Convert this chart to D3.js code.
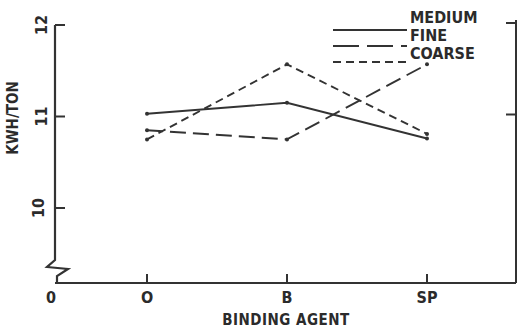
<!DOCTYPE html>
<html>
<head>
<meta charset="utf-8">
<script src="https://cdn.jsdelivr.net/npm/d3@7"></script>
<style>
  body { margin: 0; background: #fff; }
  text { font-family: "Liberation Sans Narrow", "DejaVu Sans Condensed", sans-serif; font-weight: bold; fill: #2b2b2b; }
</style>
</head>
<body>
<div id="chart"></div>
<script>
var agents = ["O", "B", "SP"];
var medium = [11.03, 11.15, 10.76];
var fine = [10.85, 10.75, 11.57];
var coarse = [10.75, 11.57, 10.81];
var yTicks = [10, 11, 12];

var width = 518, height = 330;
var ink = "#333";

var svg = d3.select("#chart").append("svg")
  .attr("width", width)
  .attr("height", height);

var x = d3.scalePoint().domain(agents).range([147, 427]);
var y = d3.scaleLinear().domain([10, 12]).range([208, 25]);

var left = 55, right = 516, base = 283;

// left axis with break
svg.append("path")
  .attr("d", "M" + left + "," + y(12) + "L" + left + ",260L47,267L68,269L57,276L57," + base)
  .attr("fill", "none").attr("stroke", ink).attr("stroke-width", 2.2);

svg.selectAll(".ytick").data(yTicks).enter().append("line")
  .attr("x1", left).attr("x2", left + 10)
  .attr("y1", function (d) { return y(d); })
  .attr("y2", function (d) { return y(d); })
  .attr("stroke", ink).attr("stroke-width", 2);

svg.selectAll(".ylab").data(yTicks).enter().append("text")
  .attr("transform", function (d) { return "translate(" + (d === 10 ? 44 : 47) + "," + y(d) + ") rotate(-90)"; })
  .attr("text-anchor", "middle")
  .attr("font-size", 16)
  .text(function (d) { return d; });

svg.append("text")
  .attr("transform", "translate(18,118) rotate(-90)")
  .attr("text-anchor", "middle")
  .attr("font-size", 15)
  .text("KWH/TON");

// right axis
svg.append("line")
  .attr("x1", right).attr("x2", right)
  .attr("y1", 20).attr("y2", base)
  .attr("stroke", ink).attr("stroke-width", 2);
svg.selectAll(".rtick").data([12, 11]).enter().append("line")
  .attr("x1", right - 10).attr("x2", right)
  .attr("y1", function (d) { return y(d) - 2; })
  .attr("y2", function (d) { return y(d) - 2; })
  .attr("stroke", ink).attr("stroke-width", 2);

// bottom axis
svg.append("line")
  .attr("x1", left).attr("x2", right)
  .attr("y1", base).attr("y2", base)
  .attr("stroke", ink).attr("stroke-width", 2.2);

svg.selectAll(".xtick").data(agents).enter().append("line")
  .attr("x1", function (d) { return x(d); })
  .attr("x2", function (d) { return x(d); })
  .attr("y1", base - 9).attr("y2", base)
  .attr("stroke", ink).attr("stroke-width", 2);

svg.selectAll(".xlab").data(agents).enter().append("text")
  .attr("x", function (d) { return x(d); })
  .attr("y", 303)
  .attr("text-anchor", "middle")
  .attr("font-size", 16)
  .text(function (d) { return d; });

svg.append("text")
  .attr("x", 51).attr("y", 303)
  .attr("text-anchor", "middle")
  .attr("font-size", 16)
  .text("0");

svg.append("text")
  .attr("x", 286).attr("y", 325)
  .attr("text-anchor", "middle")
  .attr("font-size", 15)
  .attr("letter-spacing", 0.5)
  .text("BINDING AGENT");

// series
var series = [
  { name: "MEDIUM", values: medium, dash: null },
  { name: "FINE", values: fine, dash: "16,7" },
  { name: "COARSE", values: coarse, dash: "8,5" }
];

var line = d3.line()
  .x(function (d, i) { return x(agents[i]); })
  .y(function (d) { return y(d); });

series.forEach(function (s) {
  svg.append("path")
    .datum(s.values)
    .attr("d", line)
    .attr("fill", "none")
    .attr("stroke", ink)
    .attr("stroke-width", 1.9)
    .attr("stroke-dasharray", s.dash);
  svg.selectAll(null).data(s.values).enter().append("circle")
    .attr("cx", function (d, i) { return x(agents[i]); })
    .attr("cy", function (d) { return y(d); })
    .attr("r", 2)
    .attr("fill", ink);
});

// legend
var legend = svg.append("g");
series.forEach(function (s, i) {
  var ly = 30 + i * 16;
  legend.append("line")
    .attr("x1", 333).attr("x2", 407)
    .attr("y1", ly).attr("y2", ly)
    .attr("stroke", ink).attr("stroke-width", 1.9)
    .attr("stroke-dasharray", s.name === "FINE" ? "26,8" : s.dash);
  legend.append("text")
    .attr("x", 410).attr("y", 23 + i * 18)
    .attr("font-size", 16)
    .text(s.name);
});
</script>
</body>
</html>
